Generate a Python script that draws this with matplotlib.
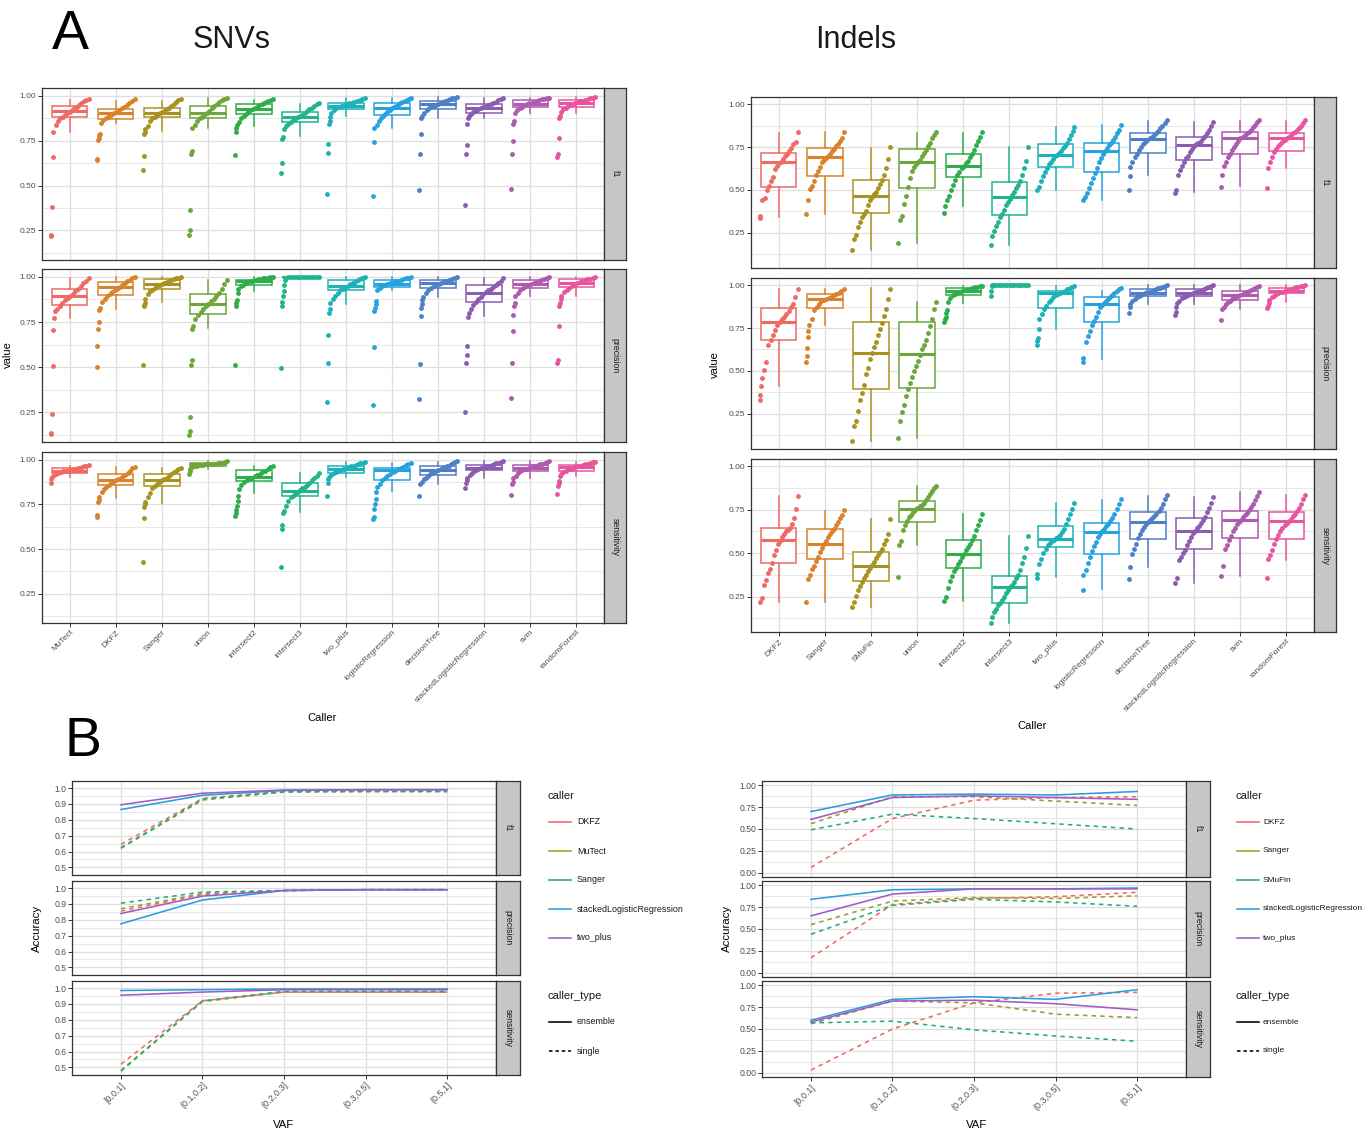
import matplotlib
matplotlib.use("Agg")
import matplotlib.pyplot as plt
from matplotlib.lines import Line2D
import numpy as np

plt.rcParams['font.family'] = ['Liberation Sans', 'DejaVu Sans']

# ---------------------------------------------------------------- data: panel A
snv_callers = ["MuTect", "DKFZ", "Sanger", "union", "intersect2", "intersect3", "two_plus",
               "logisticRegression", "decisionTree", "stackedLogisticRegression", "svm", "randomForest"]
indel_callers = ["DKFZ", "Sanger", "SMuFin", "union", "intersect2", "intersect3", "two_plus",
                 "logisticRegression", "decisionTree", "stackedLogisticRegression", "svm", "randomForest"]
metrics = ["f1", "precision", "sensitivity"]

# per-sample values (sorted), one list per caller
snv_f1_points = [
    [0.22, 0.225, 0.38, 0.66, 0.80, 0.84, 0.86, 0.875, 0.885, 0.895, 0.905, 0.912, 0.92, 0.93, 0.94, 0.95, 0.96, 0.97, 0.975, 0.98],
    [0.645, 0.65, 0.755, 0.765, 0.78, 0.79, 0.85, 0.865, 0.875, 0.885, 0.895, 0.902, 0.91, 0.92, 0.93, 0.94, 0.95, 0.96, 0.97, 0.98],
    [0.587, 0.667, 0.79, 0.80, 0.815, 0.83, 0.86, 0.875, 0.885, 0.895, 0.903, 0.91, 0.918, 0.925, 0.935, 0.945, 0.955, 0.965, 0.975, 0.98],
    [0.222, 0.255, 0.366, 0.677, 0.69, 0.82, 0.835, 0.86, 0.875, 0.885, 0.895, 0.905, 0.915, 0.93, 0.945, 0.955, 0.965, 0.975, 0.985, 0.99],
    [0.668, 0.80, 0.82, 0.835, 0.855, 0.875, 0.89, 0.90, 0.91, 0.92, 0.926, 0.933, 0.94, 0.948, 0.955, 0.962, 0.968, 0.973, 0.978, 0.982],
    [0.568, 0.625, 0.76, 0.77, 0.815, 0.83, 0.845, 0.855, 0.865, 0.872, 0.88, 0.887, 0.895, 0.905, 0.915, 0.925, 0.935, 0.945, 0.955, 0.96],
    [0.454, 0.68, 0.73, 0.845, 0.86, 0.88, 0.905, 0.92, 0.93, 0.937, 0.943, 0.948, 0.953, 0.958, 0.963, 0.968, 0.973, 0.978, 0.983, 0.987],
    [0.443, 0.742, 0.82, 0.84, 0.86, 0.875, 0.89, 0.90, 0.91, 0.92, 0.93, 0.937, 0.944, 0.951, 0.958, 0.965, 0.971, 0.977, 0.983, 0.988],
    [0.474, 0.678, 0.79, 0.875, 0.89, 0.905, 0.92, 0.93, 0.938, 0.945, 0.952, 0.957, 0.962, 0.967, 0.972, 0.977, 0.982, 0.986, 0.99, 0.993],
    [0.391, 0.678, 0.727, 0.843, 0.875, 0.89, 0.90, 0.91, 0.918, 0.925, 0.932, 0.938, 0.944, 0.95, 0.956, 0.962, 0.968, 0.975, 0.982, 0.988],
    [0.481, 0.678, 0.75, 0.845, 0.86, 0.905, 0.92, 0.932, 0.94, 0.947, 0.953, 0.958, 0.963, 0.968, 0.972, 0.976, 0.98, 0.984, 0.988, 0.991],
    [0.66, 0.677, 0.763, 0.875, 0.89, 0.91, 0.925, 0.935, 0.943, 0.95, 0.956, 0.961, 0.966, 0.97, 0.974, 0.978, 0.982, 0.986, 0.99, 0.993],
]
snv_precision_points = [
    [0.128, 0.134, 0.239, 0.504, 0.704, 0.77, 0.81, 0.825, 0.84, 0.855, 0.87, 0.885, 0.895, 0.905, 0.92, 0.935, 0.95, 0.965, 0.98, 0.995],
    [0.50, 0.615, 0.709, 0.748, 0.815, 0.83, 0.86, 0.88, 0.895, 0.905, 0.915, 0.925, 0.935, 0.945, 0.955, 0.965, 0.975, 0.985, 0.993, 0.998],
    [0.513, 0.837, 0.845, 0.855, 0.88, 0.905, 0.92, 0.93, 0.94, 0.948, 0.955, 0.962, 0.968, 0.974, 0.979, 0.984, 0.988, 0.992, 0.996, 0.999],
    [0.125, 0.145, 0.226, 0.513, 0.54, 0.712, 0.73, 0.765, 0.79, 0.805, 0.82, 0.84, 0.852, 0.865, 0.88, 0.895, 0.91, 0.935, 0.96, 0.985],
    [0.513, 0.837, 0.855, 0.874, 0.91, 0.935, 0.95, 0.958, 0.965, 0.97, 0.975, 0.98, 0.984, 0.987, 0.99, 0.992, 0.994, 0.996, 0.998, 0.999],
    [0.494, 0.837, 0.86, 0.893, 0.92, 0.957, 0.985, 0.995, 0.997, 0.998, 0.998, 0.999, 0.999, 0.999, 1.0, 1.0, 1.0, 1.0, 1.0, 1.0],
    [0.304, 0.522, 0.676, 0.80, 0.82, 0.855, 0.875, 0.895, 0.91, 0.925, 0.935, 0.945, 0.952, 0.96, 0.967, 0.974, 0.981, 0.988, 0.994, 0.998],
    [0.291, 0.609, 0.81, 0.83, 0.85, 0.865, 0.93, 0.94, 0.948, 0.955, 0.96, 0.965, 0.97, 0.975, 0.98, 0.984, 0.988, 0.992, 0.996, 0.999],
    [0.324, 0.52, 0.781, 0.83, 0.85, 0.87, 0.89, 0.91, 0.925, 0.938, 0.948, 0.956, 0.963, 0.969, 0.975, 0.98, 0.985, 0.99, 0.995, 0.999],
    [0.25, 0.522, 0.565, 0.615, 0.78, 0.80, 0.825, 0.845, 0.86, 0.875, 0.89, 0.905, 0.915, 0.925, 0.935, 0.945, 0.955, 0.968, 0.98, 0.992],
    [0.328, 0.522, 0.702, 0.79, 0.837, 0.855, 0.893, 0.91, 0.925, 0.937, 0.947, 0.955, 0.962, 0.968, 0.974, 0.979, 0.984, 0.989, 0.994, 0.998],
    [0.522, 0.537, 0.726, 0.837, 0.855, 0.875, 0.895, 0.915, 0.93, 0.94, 0.95, 0.957, 0.964, 0.97, 0.976, 0.981, 0.986, 0.99, 0.994, 0.998],
]
snv_sensitivity_points = [
    [0.87, 0.89, 0.905, 0.915, 0.922, 0.928, 0.932, 0.935, 0.938, 0.94, 0.942, 0.945, 0.948, 0.951, 0.954, 0.957, 0.96, 0.963, 0.967, 0.972],
    [0.678, 0.69, 0.762, 0.775, 0.79, 0.82, 0.835, 0.85, 0.86, 0.87, 0.878, 0.886, 0.893, 0.90, 0.908, 0.917, 0.928, 0.94, 0.952, 0.962],
    [0.426, 0.673, 0.733, 0.75, 0.762, 0.79, 0.815, 0.84, 0.855, 0.865, 0.875, 0.885, 0.89, 0.90, 0.91, 0.92, 0.93, 0.94, 0.948, 0.955],
    [0.918, 0.935, 0.95, 0.958, 0.963, 0.967, 0.969, 0.971, 0.973, 0.974, 0.975, 0.976, 0.977, 0.978, 0.979, 0.98, 0.982, 0.985, 0.99, 0.995],
    [0.686, 0.70, 0.72, 0.74, 0.77, 0.80, 0.835, 0.86, 0.875, 0.885, 0.893, 0.90, 0.908, 0.915, 0.922, 0.93, 0.938, 0.948, 0.958, 0.967],
    [0.398, 0.613, 0.632, 0.70, 0.715, 0.74, 0.77, 0.79, 0.80, 0.81, 0.82, 0.83, 0.84, 0.85, 0.86, 0.872, 0.885, 0.90, 0.912, 0.925],
    [0.80, 0.87, 0.89, 0.905, 0.915, 0.925, 0.932, 0.938, 0.943, 0.947, 0.951, 0.955, 0.959, 0.963, 0.967, 0.971, 0.975, 0.98, 0.985, 0.99],
    [0.67, 0.68, 0.725, 0.75, 0.78, 0.82, 0.845, 0.865, 0.885, 0.90, 0.912, 0.922, 0.932, 0.94, 0.948, 0.955, 0.962, 0.97, 0.977, 0.985],
    [0.80, 0.865, 0.875, 0.89, 0.90, 0.91, 0.918, 0.925, 0.932, 0.938, 0.943, 0.948, 0.953, 0.958, 0.963, 0.968, 0.974, 0.98, 0.986, 0.992],
    [0.842, 0.87, 0.886, 0.90, 0.915, 0.928, 0.937, 0.943, 0.948, 0.952, 0.956, 0.96, 0.964, 0.968, 0.972, 0.976, 0.98, 0.985, 0.99, 0.995],
    [0.805, 0.864, 0.878, 0.90, 0.912, 0.925, 0.935, 0.942, 0.947, 0.951, 0.955, 0.959, 0.963, 0.967, 0.971, 0.975, 0.979, 0.984, 0.99, 0.995],
    [0.808, 0.855, 0.868, 0.88, 0.91, 0.922, 0.932, 0.94, 0.946, 0.951, 0.955, 0.959, 0.963, 0.967, 0.971, 0.975, 0.979, 0.983, 0.987, 0.99],
]
# box statistics: [whisker low, q1, median, q3, whisker high]
snv_f1_box = [
    [0.80, 0.883, 0.913, 0.944, 0.978], [0.848, 0.872, 0.902, 0.928, 0.974], [0.807, 0.880, 0.907, 0.935, 0.972],
    [0.82, 0.876, 0.904, 0.946, 0.99], [0.83, 0.898, 0.926, 0.956, 0.978], [0.774, 0.856, 0.881, 0.909, 0.956],
    [0.89, 0.926, 0.944, 0.959, 0.987], [0.82, 0.896, 0.935, 0.963, 0.987], [0.876, 0.928, 0.954, 0.97, 0.993],
    [0.876, 0.907, 0.931, 0.956, 0.987], [0.904, 0.937, 0.956, 0.978, 0.99], [0.905, 0.937, 0.96, 0.978, 0.993],
]
snv_precision_box = [
    [0.772, 0.843, 0.893, 0.935, 0.994], [0.822, 0.90, 0.943, 0.972, 0.998], [0.859, 0.933, 0.961, 0.99, 1.0],
    [0.717, 0.796, 0.852, 0.907, 0.985], [0.92, 0.957, 0.976, 0.985, 1.0], [0.99, 0.997, 0.999, 1.0, 1.0],
    [0.85, 0.926, 0.948, 0.981, 1.0], [0.93, 0.944, 0.963, 0.985, 1.0], [0.889, 0.939, 0.967, 0.985, 1.0],
    [0.781, 0.861, 0.911, 0.957, 0.994], [0.893, 0.939, 0.963, 0.981, 1.0], [0.893, 0.944, 0.967, 0.991, 1.0],
]
snv_sensitivity_box = [
    [0.905, 0.929, 0.939, 0.957, 0.967], [0.786, 0.859, 0.888, 0.918, 0.961], [0.758, 0.855, 0.887, 0.92, 0.952],
    [0.95, 0.968, 0.975, 0.98, 0.995], [0.812, 0.879, 0.901, 0.942, 0.967], [0.706, 0.799, 0.827, 0.87, 0.926],
    [0.901, 0.929, 0.948, 0.968, 0.989], [0.823, 0.888, 0.942, 0.957, 0.985], [0.864, 0.916, 0.942, 0.967, 0.989],
    [0.90, 0.942, 0.954, 0.972, 0.994], [0.90, 0.939, 0.954, 0.972, 0.994], [0.911, 0.939, 0.961, 0.972, 0.989],
]

indel_f1_points = [
    [0.335, 0.35, 0.44, 0.455, 0.50, 0.525, 0.55, 0.575, 0.62, 0.64, 0.655, 0.665, 0.68, 0.695, 0.71, 0.725, 0.745, 0.765, 0.78, 0.835],
    [0.358, 0.439, 0.505, 0.525, 0.555, 0.585, 0.61, 0.635, 0.66, 0.675, 0.688, 0.70, 0.71, 0.725, 0.74, 0.755, 0.77, 0.785, 0.80, 0.838],
    [0.149, 0.217, 0.24, 0.285, 0.315, 0.34, 0.36, 0.38, 0.41, 0.44, 0.46, 0.475, 0.49, 0.51, 0.535, 0.56, 0.59, 0.63, 0.68, 0.75],
    [0.191, 0.323, 0.35, 0.42, 0.465, 0.52, 0.57, 0.61, 0.635, 0.65, 0.66, 0.675, 0.695, 0.715, 0.735, 0.755, 0.775, 0.80, 0.82, 0.835],
    [0.366, 0.404, 0.44, 0.465, 0.50, 0.53, 0.56, 0.585, 0.605, 0.625, 0.64, 0.655, 0.67, 0.69, 0.71, 0.735, 0.76, 0.785, 0.81, 0.835],
    [0.182, 0.23, 0.26, 0.29, 0.315, 0.34, 0.36, 0.385, 0.41, 0.43, 0.45, 0.47, 0.49, 0.51, 0.53, 0.555, 0.59, 0.63, 0.67, 0.752],
    [0.497, 0.52, 0.55, 0.58, 0.605, 0.63, 0.65, 0.665, 0.68, 0.695, 0.705, 0.715, 0.728, 0.742, 0.758, 0.775, 0.795, 0.82, 0.845, 0.868],
    [0.443, 0.46, 0.485, 0.51, 0.54, 0.57, 0.60, 0.63, 0.66, 0.685, 0.71, 0.728, 0.745, 0.76, 0.775, 0.79, 0.81, 0.83, 0.85, 0.878],
    [0.501, 0.584, 0.635, 0.665, 0.69, 0.71, 0.73, 0.75, 0.765, 0.78, 0.79, 0.80, 0.81, 0.82, 0.83, 0.845, 0.86, 0.875, 0.89, 0.905],
    [0.485, 0.50, 0.59, 0.615, 0.64, 0.665, 0.685, 0.70, 0.72, 0.74, 0.755, 0.765, 0.775, 0.785, 0.80, 0.815, 0.83, 0.85, 0.87, 0.895],
    [0.52, 0.588, 0.64, 0.665, 0.69, 0.71, 0.73, 0.75, 0.77, 0.785, 0.80, 0.81, 0.82, 0.83, 0.84, 0.85, 0.865, 0.88, 0.895, 0.905],
    [0.509, 0.627, 0.66, 0.69, 0.72, 0.74, 0.755, 0.77, 0.78, 0.79, 0.80, 0.81, 0.82, 0.83, 0.84, 0.85, 0.86, 0.875, 0.89, 0.905],
]
indel_precision_points = [
    [0.334, 0.36, 0.41, 0.46, 0.505, 0.555, 0.65, 0.68, 0.71, 0.74, 0.765, 0.785, 0.80, 0.815, 0.83, 0.85, 0.87, 0.89, 0.93, 0.975],
    [0.553, 0.585, 0.635, 0.70, 0.735, 0.77, 0.80, 0.855, 0.875, 0.89, 0.905, 0.915, 0.92, 0.925, 0.932, 0.94, 0.948, 0.956, 0.965, 0.975],
    [0.091, 0.18, 0.21, 0.27, 0.33, 0.37, 0.42, 0.48, 0.52, 0.57, 0.605, 0.64, 0.67, 0.71, 0.745, 0.78, 0.82, 0.86, 0.92, 0.975],
    [0.111, 0.21, 0.26, 0.30, 0.355, 0.395, 0.43, 0.465, 0.50, 0.53, 0.56, 0.595, 0.625, 0.65, 0.68, 0.72, 0.76, 0.80, 0.86, 0.90],
    [0.786, 0.80, 0.815, 0.835, 0.855, 0.90, 0.925, 0.94, 0.948, 0.955, 0.96, 0.965, 0.97, 0.974, 0.978, 0.982, 0.986, 0.99, 0.993, 0.996],
    [0.936, 0.966, 0.995, 0.998, 0.999, 0.999, 1.0, 1.0, 1.0, 1.0, 1.0, 1.0, 1.0, 1.0, 1.0, 1.0, 1.0, 1.0, 1.0, 1.0],
    [0.654, 0.675, 0.693, 0.742, 0.80, 0.83, 0.86, 0.88, 0.90, 0.915, 0.93, 0.94, 0.948, 0.955, 0.962, 0.968, 0.975, 0.982, 0.988, 0.994],
    [0.551, 0.575, 0.668, 0.703, 0.735, 0.765, 0.79, 0.815, 0.845, 0.87, 0.885, 0.898, 0.91, 0.92, 0.93, 0.94, 0.952, 0.963, 0.975, 0.985],
    [0.839, 0.875, 0.89, 0.905, 0.918, 0.928, 0.936, 0.942, 0.948, 0.953, 0.958, 0.962, 0.966, 0.97, 0.975, 0.98, 0.985, 0.99, 0.995, 0.999],
    [0.825, 0.842, 0.875, 0.895, 0.91, 0.922, 0.932, 0.938, 0.944, 0.949, 0.953, 0.957, 0.961, 0.965, 0.97, 0.975, 0.981, 0.987, 0.993, 0.998],
    [0.796, 0.86, 0.875, 0.89, 0.90, 0.91, 0.918, 0.925, 0.932, 0.938, 0.943, 0.948, 0.953, 0.958, 0.964, 0.97, 0.977, 0.984, 0.991, 0.997],
    [0.864, 0.88, 0.898, 0.915, 0.928, 0.938, 0.946, 0.952, 0.957, 0.962, 0.966, 0.97, 0.974, 0.978, 0.982, 0.986, 0.99, 0.993, 0.996, 0.999],
]
indel_sensitivity_points = [
    [0.221, 0.243, 0.316, 0.345, 0.385, 0.41, 0.445, 0.49, 0.52, 0.55, 0.57, 0.59, 0.61, 0.625, 0.635, 0.645, 0.665, 0.70, 0.755, 0.826],
    [0.221, 0.351, 0.375, 0.41, 0.425, 0.455, 0.48, 0.505, 0.53, 0.55, 0.57, 0.59, 0.61, 0.625, 0.64, 0.66, 0.68, 0.70, 0.72, 0.745],
    [0.192, 0.22, 0.255, 0.285, 0.31, 0.335, 0.355, 0.375, 0.395, 0.415, 0.432, 0.45, 0.47, 0.49, 0.505, 0.525, 0.55, 0.575, 0.61, 0.694],
    [0.36, 0.548, 0.57, 0.632, 0.66, 0.685, 0.705, 0.72, 0.735, 0.748, 0.758, 0.768, 0.778, 0.79, 0.805, 0.82, 0.84, 0.857, 0.872, 0.888],
    [0.225, 0.25, 0.30, 0.34, 0.37, 0.395, 0.415, 0.435, 0.455, 0.475, 0.495, 0.515, 0.535, 0.555, 0.575, 0.60, 0.63, 0.66, 0.69, 0.722],
    [0.10, 0.135, 0.16, 0.18, 0.20, 0.215, 0.23, 0.25, 0.27, 0.288, 0.302, 0.318, 0.335, 0.355, 0.375, 0.405, 0.44, 0.48, 0.53, 0.60],
    [0.355, 0.38, 0.435, 0.465, 0.50, 0.525, 0.545, 0.56, 0.57, 0.578, 0.586, 0.595, 0.605, 0.62, 0.64, 0.665, 0.695, 0.725, 0.755, 0.787],
    [0.287, 0.376, 0.40, 0.44, 0.48, 0.51, 0.54, 0.565, 0.59, 0.61, 0.625, 0.64, 0.655, 0.67, 0.685, 0.70, 0.725, 0.755, 0.785, 0.81],
    [0.351, 0.419, 0.496, 0.525, 0.555, 0.585, 0.61, 0.63, 0.65, 0.665, 0.678, 0.69, 0.70, 0.712, 0.725, 0.74, 0.76, 0.785, 0.81, 0.832],
    [0.326, 0.357, 0.46, 0.48, 0.50, 0.52, 0.545, 0.57, 0.595, 0.615, 0.628, 0.642, 0.658, 0.675, 0.69, 0.71, 0.735, 0.76, 0.79, 0.82],
    [0.366, 0.424, 0.521, 0.545, 0.575, 0.60, 0.625, 0.645, 0.665, 0.68, 0.692, 0.705, 0.718, 0.732, 0.748, 0.765, 0.785, 0.805, 0.828, 0.85],
    [0.357, 0.467, 0.49, 0.52, 0.55, 0.58, 0.605, 0.625, 0.645, 0.66, 0.672, 0.685, 0.698, 0.712, 0.725, 0.74, 0.76, 0.785, 0.81, 0.835],
]
indel_f1_box = [
    [0.342, 0.52, 0.66, 0.716, 0.834], [0.358, 0.584, 0.689, 0.745, 0.836], [0.149, 0.366, 0.466, 0.559, 0.747],
    [0.191, 0.514, 0.66, 0.737, 0.832], [0.404, 0.574, 0.642, 0.708, 0.834], [0.182, 0.356, 0.458, 0.544, 0.749],
    [0.497, 0.636, 0.704, 0.768, 0.868], [0.443, 0.602, 0.729, 0.772, 0.878], [0.588, 0.714, 0.795, 0.834, 0.903],
    [0.487, 0.675, 0.764, 0.807, 0.897], [0.524, 0.708, 0.801, 0.839, 0.903], [0.627, 0.727, 0.801, 0.834, 0.903],
]
indel_precision_box = [
    [0.412, 0.68, 0.786, 0.868, 0.975], [0.765, 0.868, 0.92, 0.946, 0.975], [0.091, 0.398, 0.606, 0.786, 0.98],
    [0.111, 0.402, 0.596, 0.786, 0.90], [0.897, 0.942, 0.965, 0.98, 0.994], [0.999, 1.0, 1.0, 1.0, 1.0],
    [0.746, 0.868, 0.951, 0.965, 0.994], [0.567, 0.784, 0.887, 0.932, 0.965], [0.887, 0.936, 0.955, 0.979, 1.0],
    [0.887, 0.936, 0.951, 0.979, 1.0], [0.858, 0.913, 0.94, 0.965, 0.998], [0.903, 0.951, 0.965, 0.984, 1.0],
]
indel_sensitivity_box = [
    [0.221, 0.444, 0.574, 0.647, 0.826], [0.221, 0.467, 0.55, 0.641, 0.744], [0.192, 0.341, 0.428, 0.506, 0.694],
    [0.548, 0.68, 0.756, 0.802, 0.888], [0.225, 0.415, 0.496, 0.578, 0.723], [0.099, 0.215, 0.302, 0.37, 0.599],
    [0.36, 0.535, 0.583, 0.655, 0.787], [0.293, 0.492, 0.622, 0.674, 0.806], [0.419, 0.583, 0.676, 0.734, 0.831],
    [0.326, 0.525, 0.626, 0.70, 0.82], [0.366, 0.587, 0.69, 0.744, 0.849], [0.461, 0.583, 0.684, 0.734, 0.835],
]

# ---------------------------------------------------------------- data: panel B
vaf_bins = ["[0,0.1]", "(0.1,0.2]", "(0.2,0.3]", "(0.3,0.5]", "(0.5,1]"]
snv_line_callers = ["DKFZ", "MuTect", "Sanger", "stackedLogisticRegression", "two_plus"]
indel_line_callers = ["DKFZ", "Sanger", "SMuFin", "stackedLogisticRegression", "two_plus"]
line_caller_types = ["single", "single", "single", "ensemble", "ensemble"]

snv_line_f1 = [
    [0.645, 0.935, 0.98, 0.98, 0.98],
    [0.62, 0.925, 0.975, 0.978, 0.978],
    [0.625, 0.93, 0.978, 0.98, 0.98],
    [0.865, 0.955, 0.985, 0.99, 0.99],
    [0.895, 0.968, 0.988, 0.99, 0.99],
]
snv_line_precision = [
    [0.855, 0.96, 0.985, 0.99, 0.99],
    [0.87, 0.965, 0.985, 0.99, 0.99],
    [0.905, 0.975, 0.985, 0.99, 0.99],
    [0.775, 0.925, 0.985, 0.99, 0.99],
    [0.84, 0.95, 0.985, 0.99, 0.99],
]
snv_line_sensitivity = [
    [0.52, 0.92, 0.975, 0.975, 0.975],
    [0.475, 0.915, 0.975, 0.975, 0.975],
    [0.48, 0.92, 0.98, 0.98, 0.98],
    [0.985, 0.99, 0.995, 0.995, 0.995],
    [0.955, 0.975, 0.99, 0.99, 0.99],
]
indel_line_f1 = [
    [0.06, 0.62, 0.83, 0.86, 0.87],
    [0.56, 0.87, 0.87, 0.82, 0.77],
    [0.49, 0.67, 0.62, 0.56, 0.50],
    [0.70, 0.89, 0.90, 0.89, 0.93],
    [0.61, 0.86, 0.88, 0.86, 0.84],
]
indel_line_precision = [
    [0.17, 0.78, 0.85, 0.87, 0.92],
    [0.55, 0.82, 0.86, 0.85, 0.88],
    [0.44, 0.77, 0.84, 0.81, 0.76],
    [0.84, 0.95, 0.96, 0.96, 0.97],
    [0.65, 0.90, 0.96, 0.96, 0.96],
]
indel_line_sensitivity = [
    [0.03, 0.50, 0.80, 0.91, 0.92],
    [0.56, 0.82, 0.80, 0.67, 0.63],
    [0.57, 0.59, 0.49, 0.42, 0.36],
    [0.60, 0.84, 0.87, 0.84, 0.95],
    [0.58, 0.82, 0.83, 0.79, 0.72],
]

# ---------------------------------------------------------------- styles
A_COLORS = ['#EE6A63', '#D9822B', '#A89322', '#6DA63A', '#2DAE4A', '#22B48C',
            '#1BB3B8', '#27A2DD', '#4F7FC6', '#8C5CB0', '#AE5AAE', '#E8559F']
B_COLORS = ['#EF6B62', '#9C9B2C', '#1EB07A', '#2A9DDC', '#A05CC6']
GRID = '#DEDEDE'
BORDER = '#333333'
TICKLAB = '#4D4D4D'
STRIP = '#C6C6C6'

W, H = 1370, 1136
fig = plt.figure(figsize=(W / 100, H / 100), dpi=100)


def rect(x0, y0, x1, y1):
    return [x0 / W, 1 - y1 / H, (x1 - x0) / W, (y1 - y0) / H]


def ftext(x, y, s, **kw):
    fig.text(x / W, 1 - y / H, s, **kw)


def style_axis(ax, size):
    for sp in ax.spines.values():
        sp.set_color(BORDER)
        sp.set_linewidth(0.9)
    ax.tick_params(which='major', length=2.6, width=0.7, color=BORDER,
                   labelcolor=TICKLAB, labelsize=size, pad=1.5)
    ax.tick_params(which='minor', length=0)
    ax.set_axisbelow(True)


def strip(x0, yt, x1, yb, label):
    sax = fig.add_axes(rect(x0, yt, x1, yb))
    sax.set_facecolor(STRIP)
    sax.set_xticks([])
    sax.set_yticks([])
    for sp in sax.spines.values():
        sp.set_color(BORDER)
        sp.set_linewidth(0.9)
    sax.text(0.5, 0.5, label, rotation=270, ha='center', va='center',
             fontsize=6.3, color='#1A1A1A', transform=sax.transAxes)


N_VIRTUAL = 60


def rank_fraction(vals, lo):
    n_out = int(np.sum(vals < lo - 1e-9))
    n_in = len(vals) - n_out
    f = np.empty(len(vals))
    f[:n_out] = np.arange(n_out) / (N_VIRTUAL - 1)
    start = n_out / (N_VIRTUAL - 1)
    if n_in > 1:
        f[n_out:] = start + (1 - start) * np.arange(n_in) / (n_in - 1)
    else:
        f[n_out:] = 1.0
    return f


def box_facets(x0, x1, rows, callers, pts_rows, box_rows, ylim):
    n = len(callers)
    pos = np.arange(1, n + 1)
    for r, (yt, yb) in enumerate(rows):
        ax = fig.add_axes(rect(x0, yt, x1, yb))
        ax.set_xlim(0.4, n + 0.6)
        ax.set_ylim(*ylim)
        style_axis(ax, 6.0)
        ax.set_yticks([0.25, 0.5, 0.75, 1.0])
        ax.set_yticklabels(["0.25", "0.50", "0.75", "1.00"])
        ax.set_yticks([0.125, 0.375, 0.625, 0.875], minor=True)
        ax.set_xticks(pos)
        ax.grid(which='major', color=GRID, lw=0.9)
        ax.grid(which='minor', axis='y', color=GRID, lw=0.5)
        for i in range(n):
            lo, q1, med, q3, hi = box_rows[r][i]
            c = A_COLORS[i]
            ax.bxp([dict(whislo=lo, q1=q1, med=med, q3=q3, whishi=hi)],
                   positions=[pos[i]], widths=0.77, showfliers=False, showcaps=False,
                   patch_artist=True, manage_ticks=False,
                   boxprops=dict(facecolor='white', edgecolor=c, linewidth=1.1),
                   medianprops=dict(color=c, linewidth=2.2),
                   whiskerprops=dict(color=c, linewidth=1.1), zorder=2)
            vals = np.sort(np.array(pts_rows[r][i]))
            f = rank_fraction(vals, lo)
            ax.plot(pos[i] - 0.41 + 0.82 * f, vals, 'o', ms=3.5, color=c,
                    mec='none', zorder=4)
        if r < len(rows) - 1:
            ax.tick_params(axis='x', bottom=False, labelbottom=False)
        else:
            ax.set_xticklabels(callers, rotation=45, ha='right', va='top',
                               rotation_mode='anchor', fontsize=6.0)
        strip(x1, yt, x1 + 22, yb, metrics[r])


def line_facets(x0, x1, rows, series_rows, ylim, yticks, ylabels, yminor):
    nb = len(vaf_bins)
    pos = np.arange(1, nb + 1)
    for r, (yt, yb) in enumerate(rows):
        ax = fig.add_axes(rect(x0, yt, x1, yb))
        ax.set_xlim(0.4, nb + 0.6)
        ax.set_ylim(*ylim)
        style_axis(ax, 6.2)
        ax.set_yticks(yticks)
        ax.set_yticklabels(ylabels)
        ax.set_yticks(yminor, minor=True)
        ax.set_xticks(pos)
        ax.grid(which='major', color=GRID, lw=0.9)
        ax.grid(which='minor', axis='y', color=GRID, lw=0.5)
        for k, vals in enumerate(series_rows[r]):
            ls = (0, (2.8, 2.6)) if line_caller_types[k] == 'single' else '-'
            ax.plot(pos, vals, color=B_COLORS[k], lw=1.15, ls=ls, zorder=3)
        if r < len(rows) - 1:
            ax.tick_params(axis='x', bottom=False, labelbottom=False)
        else:
            ax.set_xticklabels(vaf_bins, rotation=45, ha='right', va='top',
                               rotation_mode='anchor', fontsize=6.4)
        strip(x1, yt, x1 + 24, yb, metrics[r])


def legend(x, names, label_size, label_gap):
    ftext(x, 796, "caller", fontsize=8, color='#1A1A1A', va='center', ha='left')
    ys = [822, 851, 880, 909, 938]
    for k, nm in enumerate(names):
        fig.add_artist(Line2D([(x + 1) / W, (x + 23) / W], [1 - ys[k] / H] * 2,
                              transform=fig.transFigure, color=B_COLORS[k], lw=1.15))
        ftext(x + label_gap, ys[k], nm, fontsize=label_size, color='#1A1A1A',
              va='center', ha='left')
    ftext(x, 996, "caller_type", fontsize=8, color='#1A1A1A', va='center', ha='left')
    for yy, nm, ls in [(1022, "ensemble", '-'), (1051, "single", (0, (2.2, 1.8)))]:
        fig.add_artist(Line2D([(x + 1) / W, (x + 23) / W], [1 - yy / H] * 2,
                              transform=fig.transFigure, color='black', lw=1.15, ls=ls))
        ftext(x + label_gap, yy, nm, fontsize=label_size, color='#1A1A1A',
              va='center', ha='left')


# ---------------------------------------------------------------- panel A
box_facets(42, 604, [(88, 260), (269, 442), (452, 623)], snv_callers,
           [snv_f1_points, snv_precision_points, snv_sensitivity_points],
           [snv_f1_box, snv_precision_box, snv_sensitivity_box], (0.085, 1.044))
box_facets(751, 1314, [(97, 268), (278, 449), (459, 632)], indel_callers,
           [indel_f1_points, indel_precision_points, indel_sensitivity_points],
           [indel_f1_box, indel_precision_box, indel_sensitivity_box], (0.046, 1.041))

ftext(70, 35, "A", fontsize=40, ha='center', va='center', color='black')
ftext(232, 40, "SNVs", fontsize=22, ha='center', va='center', color='#1A1A1A')
ftext(856, 40, "Indels", fontsize=22, ha='center', va='center', color='#1A1A1A')
ftext(322, 718, "Caller", fontsize=8, ha='center', va='center')
ftext(1032, 726, "Caller", fontsize=8, ha='center', va='center')
ftext(8, 355, "value", fontsize=8, rotation=90, ha='center', va='center')
ftext(715, 365, "value", fontsize=8, rotation=90, ha='center', va='center')

# ---------------------------------------------------------------- panel B
line_facets(72, 496, [(781, 875), (881, 975), (981, 1075)],
            [snv_line_f1, snv_line_precision, snv_line_sensitivity],
            (0.452, 1.045), [0.5, 0.6, 0.7, 0.8, 0.9, 1.0],
            ["0.5", "0.6", "0.7", "0.8", "0.9", "1.0"],
            [0.55, 0.65, 0.75, 0.85, 0.95])
line_facets(762, 1186, [(781, 877), (881, 977), (981, 1077)],
            [indel_line_f1, indel_line_precision, indel_line_sensitivity],
            (-0.05, 1.05), [0.0, 0.25, 0.5, 0.75, 1.0],
            ["0.00", "0.25", "0.50", "0.75", "1.00"],
            [0.125, 0.375, 0.625, 0.875])
legend(548, snv_line_callers, 6.4, 29)
legend(1236, indel_line_callers, 6.0, 27)

ftext(83, 742, "B", fontsize=40, ha='center', va='center', color='black')
ftext(284, 1125, "VAF", fontsize=8.2, ha='center', va='center')
ftext(977, 1125, "VAF", fontsize=8.2, ha='center', va='center')
ftext(37, 928, "Accuracy", fontsize=8.2, rotation=90, ha='center', va='center')
ftext(727, 928, "Accuracy", fontsize=8.2, rotation=90, ha='center', va='center')

fig.savefig("out.png", dpi=100, facecolor='white')
